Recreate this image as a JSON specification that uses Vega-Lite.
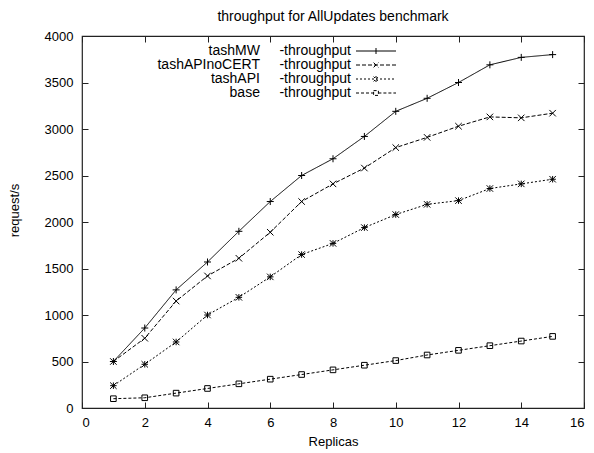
{
  "$schema": "https://vega.github.io/schema/vega-lite/v6.json",
  "width": 502,
  "height": 372,
  "autosize": {"type": "none"},
  "padding": {"left": 82, "top": 36, "right": 10, "bottom": 45},
  "background": "white",
  "config": {
    "font": "Liberation Sans",
    "view": {"stroke": "#222", "strokeWidth": 1.2},
    "axis": {
      "grid": false,
      "domain": false,
      "tickColor": "#222",
      "tickSize": -6,
      "labelFontSize": 13,
      "labelColor": "black",
      "titleFontSize": 13,
      "titleFontWeight": "normal",
      "titleColor": "black"
    }
  },
  "title": {
    "text": "throughput for AllUpdates benchmark",
    "fontSize": 14,
    "fontWeight": "normal",
    "color": "black",
    "offset": 6
  },
  "data": {
    "values": [
      {"series": "tashMW", "replicas": 1, "rps": 500},
      {"series": "tashMW", "replicas": 2, "rps": 860},
      {"series": "tashMW", "replicas": 3, "rps": 1270},
      {"series": "tashMW", "replicas": 4, "rps": 1570},
      {"series": "tashMW", "replicas": 5, "rps": 1900},
      {"series": "tashMW", "replicas": 6, "rps": 2220},
      {"series": "tashMW", "replicas": 7, "rps": 2500},
      {"series": "tashMW", "replicas": 8, "rps": 2680},
      {"series": "tashMW", "replicas": 9, "rps": 2920},
      {"series": "tashMW", "replicas": 10, "rps": 3190},
      {"series": "tashMW", "replicas": 11, "rps": 3330},
      {"series": "tashMW", "replicas": 12, "rps": 3500},
      {"series": "tashMW", "replicas": 13, "rps": 3690},
      {"series": "tashMW", "replicas": 14, "rps": 3770},
      {"series": "tashMW", "replicas": 15, "rps": 3800},
      {"series": "tashAPInoCERT", "replicas": 1, "rps": 500},
      {"series": "tashAPInoCERT", "replicas": 2, "rps": 750},
      {"series": "tashAPInoCERT", "replicas": 3, "rps": 1150},
      {"series": "tashAPInoCERT", "replicas": 4, "rps": 1420},
      {"series": "tashAPInoCERT", "replicas": 5, "rps": 1610},
      {"series": "tashAPInoCERT", "replicas": 6, "rps": 1890},
      {"series": "tashAPInoCERT", "replicas": 7, "rps": 2220},
      {"series": "tashAPInoCERT", "replicas": 8, "rps": 2410},
      {"series": "tashAPInoCERT", "replicas": 9, "rps": 2580},
      {"series": "tashAPInoCERT", "replicas": 10, "rps": 2800},
      {"series": "tashAPInoCERT", "replicas": 11, "rps": 2910},
      {"series": "tashAPInoCERT", "replicas": 12, "rps": 3030},
      {"series": "tashAPInoCERT", "replicas": 13, "rps": 3130},
      {"series": "tashAPInoCERT", "replicas": 14, "rps": 3120},
      {"series": "tashAPInoCERT", "replicas": 15, "rps": 3170},
      {"series": "tashAPI", "replicas": 1, "rps": 240},
      {"series": "tashAPI", "replicas": 2, "rps": 470},
      {"series": "tashAPI", "replicas": 3, "rps": 710},
      {"series": "tashAPI", "replicas": 4, "rps": 1000},
      {"series": "tashAPI", "replicas": 5, "rps": 1190},
      {"series": "tashAPI", "replicas": 6, "rps": 1410},
      {"series": "tashAPI", "replicas": 7, "rps": 1650},
      {"series": "tashAPI", "replicas": 8, "rps": 1770},
      {"series": "tashAPI", "replicas": 9, "rps": 1940},
      {"series": "tashAPI", "replicas": 10, "rps": 2080},
      {"series": "tashAPI", "replicas": 11, "rps": 2190},
      {"series": "tashAPI", "replicas": 12, "rps": 2230},
      {"series": "tashAPI", "replicas": 13, "rps": 2360},
      {"series": "tashAPI", "replicas": 14, "rps": 2410},
      {"series": "tashAPI", "replicas": 15, "rps": 2460},
      {"series": "base", "replicas": 1, "rps": 100},
      {"series": "base", "replicas": 2, "rps": 110},
      {"series": "base", "replicas": 3, "rps": 160},
      {"series": "base", "replicas": 4, "rps": 210},
      {"series": "base", "replicas": 5, "rps": 260},
      {"series": "base", "replicas": 6, "rps": 310},
      {"series": "base", "replicas": 7, "rps": 360},
      {"series": "base", "replicas": 8, "rps": 410},
      {"series": "base", "replicas": 9, "rps": 460},
      {"series": "base", "replicas": 10, "rps": 510},
      {"series": "base", "replicas": 11, "rps": 570},
      {"series": "base", "replicas": 12, "rps": 620},
      {"series": "base", "replicas": 13, "rps": 670},
      {"series": "base", "replicas": 14, "rps": 720},
      {"series": "base", "replicas": 15, "rps": 770}
    ]
  },
  "layer": [
    {
      "layer": [
        {
          "mark": {"type": "line", "color": "black", "strokeWidth": 1},
          "encoding": {
            "x": {
              "field": "replicas", "type": "quantitative",
              "scale": {"domain": [0, 16], "nice": false},
              "axis": {"values": [0, 2, 4, 6, 8, 10, 12, 14, 16], "format": "d", "title": "Replicas", "labelPadding": 14, "titlePadding": 6}
            },
            "y": {
              "field": "rps", "type": "quantitative",
              "scale": {"domain": [0, 4000], "nice": false},
              "axis": {"values": [0, 500, 1000, 1500, 2000, 2500, 3000, 3500, 4000], "format": "d", "title": "request/s", "labelPadding": 15, "titleX": -68, "titleY": 174, "titleAngle": -90, "titleAlign": "center", "titleBaseline": "middle"}
            },
            "strokeDash": {
              "field": "series", "type": "nominal",
              "scale": {"domain": ["tashMW", "tashAPInoCERT", "tashAPI", "base"], "range": [[1, 0], [4, 2], [2, 2], [3, 2]]},
              "legend": {
                "orient": "none",
                "legendX": 0,
                "legendY": 8,
                "title": null,
                "padding": 0,
                "labelExpr": "datum.label + '\u00a0\u00a0\u00a0\u00a0\u00a0-throughput'",
                "labelAlign": "right",
                "labelFontSize": 14,
                "labelLimit": 0,
                "labelColor": "black",
                "labelOffset": -32,
                "symbolOffset": 287,
                "symbolSize": 16,
                "symbolStrokeColor": "black",
                "symbolStrokeWidth": 1,
                "rowPadding": 0,
                "encode": {
                  "symbols": {
                    "update": {
                      "shape": {"signal": "datum.value === 'tashMW' ? 'M-10,0H10M0,-1.5V1.5' : datum.value === 'tashAPInoCERT' ? 'M-10,0H10M-1.2,-1.2L1.2,1.2M-1.2,1.2L1.2,-1.2' : datum.value === 'tashAPI' ? 'M-10,0H10M-1.2,-1.2L1.2,1.2M-1.2,1.2L1.2,-1.2M0,-1.5V1.5' : 'M-10,0H-1.2M1.2,0H10M-1.2,-1.2H1.2V1.2H-1.2Z'"},
                      "fill": {"value": "transparent"}
                    }
                  }
                }
              }
            }
          }
        },
        {
          "transform": [{"filter": "datum.series === 'tashMW'"}],
          "mark": {"type": "point", "shape": "M-1,0H1M0,-1V1", "filled": false, "color": "black", "strokeWidth": 1, "size": 49, "opacity": 1},
          "encoding": {
            "x": {"field": "replicas", "type": "quantitative"},
            "y": {"field": "rps", "type": "quantitative"}
          }
        },
        {
          "transform": [{"filter": "datum.series === 'tashAPInoCERT'"}],
          "mark": {"type": "point", "shape": "M-1,-1L1,1M-1,1L1,-1", "filled": false, "color": "black", "strokeWidth": 1, "size": 42, "opacity": 1},
          "encoding": {
            "x": {"field": "replicas", "type": "quantitative"},
            "y": {"field": "rps", "type": "quantitative"}
          }
        },
        {
          "transform": [{"filter": "datum.series === 'tashAPI'"}],
          "mark": {"type": "point", "shape": "M-1,0H1M0,-1V1M-1,-1L1,1M-1,1L1,-1", "filled": false, "color": "black", "strokeWidth": 1, "size": 42, "opacity": 1},
          "encoding": {
            "x": {"field": "replicas", "type": "quantitative"},
            "y": {"field": "rps", "type": "quantitative"}
          }
        },
        {
          "transform": [{"filter": "datum.series === 'base'"}],
          "mark": {"type": "point", "shape": "M-0.8,-0.8H0.8V0.8H-0.8Z", "filled": false, "color": "black", "strokeWidth": 1, "size": 49, "opacity": 1},
          "encoding": {
            "x": {"field": "replicas", "type": "quantitative"},
            "y": {"field": "rps", "type": "quantitative"}
          }
        }
      ]
    },
    {
      "mark": {"type": "point", "opacity": 0},
      "encoding": {
        "x": {"field": "replicas", "type": "quantitative", "axis": {"orient": "top", "labels": false, "title": null, "values": [0, 2, 4, 6, 8, 10, 12, 14, 16]}},
        "y": {"field": "rps", "type": "quantitative", "axis": {"orient": "right", "labels": false, "title": null, "values": [0, 500, 1000, 1500, 2000, 2500, 3000, 3500, 4000]}}
      }
    }
  ],
  "resolve": {"axis": {"x": "independent", "y": "independent"}}
}
